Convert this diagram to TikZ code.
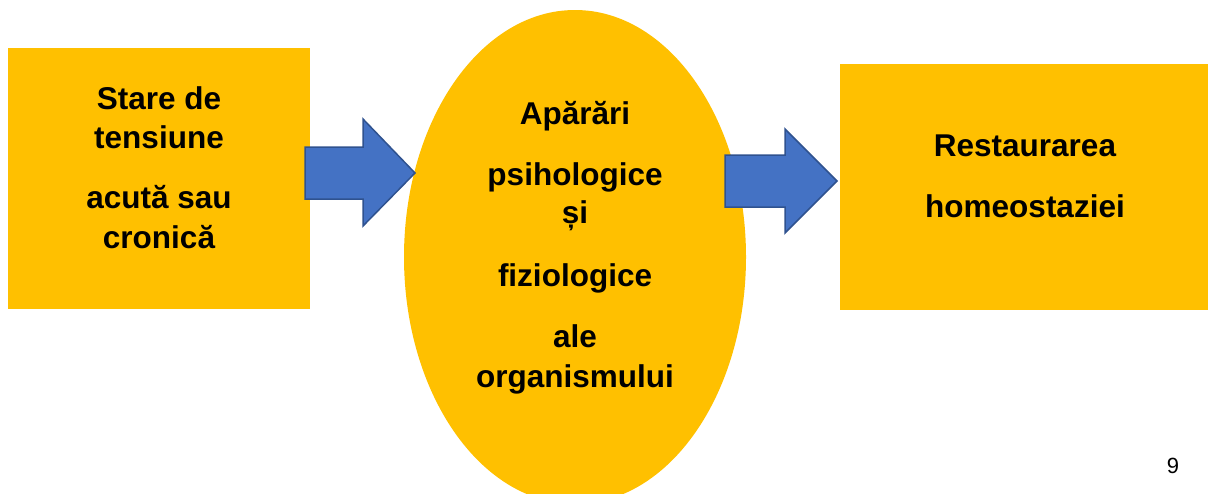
\documentclass[tikz,border=0pt]{standalone}
\usepackage{fontspec}
\setmainfont{Liberation Sans}
\definecolor{boxorange}{HTML}{FFC000}
\definecolor{arrowblue}{HTML}{4472C4}
\definecolor{arrowedge}{HTML}{2F528F}
\begin{document}
\begin{tikzpicture}[x=1pt,y=-1pt,
  shapebox/.style={fill=boxorange,draw=none},
  blockarrow/.style={fill=arrowblue,draw=arrowedge,line width=1.5pt,line join=miter},
  lbl/.style={anchor=base,inner sep=0pt,font=\fontsize{31.5}{39}\selectfont\bfseries},
  pagenum/.style={anchor=base,inner sep=0pt,font=\fontsize{22}{26}\selectfont}]
\useasboundingbox (0,0) rectangle (1208,493);
\clip (0,0) rectangle (1208,493);
% shapes
\node[shapebox,rectangle,inner sep=0pt,minimum width=302pt,minimum height=261pt] (left) at (159,178.5) {};
\node[shapebox,rectangle,inner sep=0pt,minimum width=368pt,minimum height=246pt] (right) at (1024,187) {};
\fill[boxorange] (575,257) ellipse [x radius=171, y radius=247];
\coordinate (mid) at (575,257);
% arrows
\draw[blockarrow] (305,147) -- (363,147) -- (363,119) -- (415,173) -- (363,226) -- (363,199) -- (305,199) -- cycle;
\draw[blockarrow] (725,155) -- (785,155) -- (785,129) -- (837,181) -- (785,233) -- (785,207) -- (725,207) -- cycle;
% left text
\node[lbl] (l1) at (159,109) {Stare de};
\node[lbl] (l2) at (159,148) {tensiune};
\node[lbl] (l3) at (159,208) {acută sau};
\node[lbl] (l4) at (159,248) {cronică};
% ellipse text
\node[lbl] (e1) at (575,124) {Apărări};
\node[lbl] (e2) at (575,185) {psihologice};
\node[lbl] (e3) at (575,223) {și};
\node[lbl] (e4) at (575,286) {fiziologice};
\node[lbl] (e5) at (575,347) {ale};
\node[lbl] (e6) at (575,387) {organismului};
% right text
\node[lbl] (r1) at (1025,156) {Restaurarea};
\node[lbl] (r2) at (1025,217) {homeostaziei};
% page number
\node[pagenum] (pn) at (1173,473) {9};
\end{tikzpicture}
\end{document}
